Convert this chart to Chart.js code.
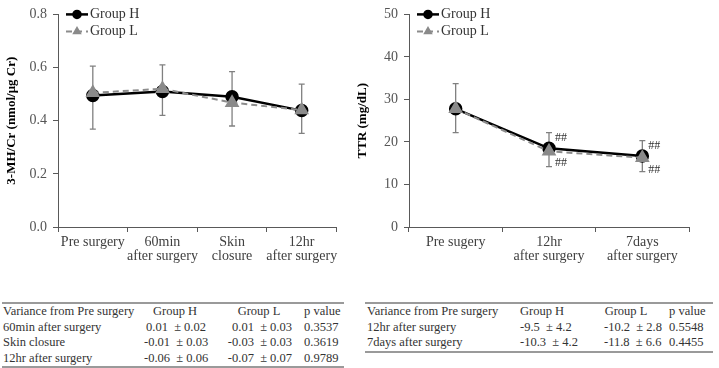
<!DOCTYPE html>
<html>
<head>
<meta charset="utf-8">
<script src="https://cdn.jsdelivr.net/npm/chart.js@4"></script>
<style>
  body { margin: 0; background: #fff; width: 719px; height: 368px; position: relative; overflow: hidden; }
  canvas { position: absolute; top: 0; }
  #chartMH { left: 0; }
  #chartTTR { left: 345px; }
  table { position: absolute; top: 302px; border-collapse: collapse; table-layout: fixed;
          font-family: "Liberation Serif", serif; font-size: 12.5px; color: #333;
          border-top: 2px solid #9a9a9a; border-bottom: 2px solid #9a9a9a; }
  td { height: 15.5px; padding: 0; line-height: 15.5px; white-space: nowrap; }
  #tableMH { left: 2px; width: 342px; }
  #tableTTR { left: 365px; width: 348px; }
  td.num { text-align: right; }
  tr.head td.c { text-align: center; }
</style>
</head>
<body>
<canvas id="chartMH" width="345" height="275"></canvas>
<canvas id="chartTTR" width="374" height="275"></canvas>
<table id="tableMH"></table>
<table id="tableTTR"></table>
<script>
// 3-MH/Cr chart
const etiquetasMH = ["Pre surgery", ["60min", "after surgery"], ["Skin", "closure"], ["12hr", "after surgery"]];
const mhGrupoH = [0.495, 0.51, 0.49, 0.438];
const mhGrupoL = [0.505, 0.52, 0.468, 0.44];
const mhErrorH = [0.11, 0.10, 0.095, 0.10];
const mhErrorL = [0.137, 0.10, 0.088, 0.088];
const mhTicks = [0, 0.2, 0.4, 0.6, 0.8];

// TTR chart
const etiquetasTTR = ["Pre sugery", ["12hr", "after surgery"], ["7days", "after surgery"]];
const ttrGrupoH = [27.8, 18.5, 16.7];
const ttrGrupoL = [27.8, 17.8, 16.3];
const ttrErrorH = [5.9, 3.7, 3.6];
const ttrErrorL = [5.6, 3.6, 3.3];
const ttrSigH = ["", "##", "##"];
const ttrSigL = ["", "##", "##"];
const ttrTicks = [0, 10, 20, 30, 40, 50];

// tablas
const encabezado = ["Variance from Pre surgery", "Group H", "Group L", "p value"];
const filasMH = [
  ["60min after surgery", "0.01  \u00b1 0.02", "0.01  \u00b1 0.03", "0.3537"],
  ["Skin closure", "-0.01  \u00b1 0.03", "-0.03  \u00b1 0.03", "0.3619"],
  ["12hr after surgery", "-0.06  \u00b1 0.06", "-0.07  \u00b1 0.07", "0.9789"],
];
const filasTTR = [
  ["12hr after surgery", "-9.5  \u00b1 4.2", "-10.2  \u00b1 2.8", "0.5548"],
  ["7days after surgery", "-10.3  \u00b1 4.2", "-11.8  \u00b1 6.6", "0.4455"],
];

const FUENTE = "'Liberation Serif', serif";
const GRIS_EJE = "#595959";

// barras de error: grupo H hacia arriba, grupo L hacia abajo
const barrasError = {
  id: "barrasError",
  beforeDatasetsDraw(chart) {
    const ctx = chart.ctx;
    const y = chart.scales.y;
    chart.data.datasets.forEach((ds, i) => {
      const meta = chart.getDatasetMeta(i);
      ctx.save();
      ctx.strokeStyle = "#808080";
      ctx.lineWidth = 1.3;
      meta.data.forEach((pt, j) => {
        const fin = y.getPixelForValue(ds.data[j] + ds.dir * ds.err[j]);
        ctx.beginPath();
        ctx.moveTo(pt.x, pt.y);
        ctx.lineTo(pt.x, fin);
        ctx.moveTo(pt.x - 3, fin);
        ctx.lineTo(pt.x + 3, fin);
        ctx.stroke();
      });
      ctx.restore();
    });
  },
  afterDatasetsDraw(chart) {
    const ctx = chart.ctx;
    chart.data.datasets.forEach((ds, i) => {
      if (!ds.sig) return;
      const meta = chart.getDatasetMeta(i);
      ctx.save();
      ctx.fillStyle = "#333";
      ctx.font = "12px " + FUENTE;
      ctx.textBaseline = "middle";
      meta.data.forEach((pt, j) => {
        if (ds.sig[j]) ctx.fillText(ds.sig[j], pt.x + 6, pt.y + (ds.dir > 0 ? -10 : 12));
      });
      ctx.restore();
    });
  },
};

// leyenda con linea y marcador
const leyenda = {
  id: "leyenda",
  afterDraw(chart) {
    const ctx = chart.ctx;
    const a = chart.chartArea;
    chart.data.datasets.forEach((ds, i) => {
      const yy = a.top + i * 17;
      const x0 = a.left + 8;
      ctx.save();
      ctx.strokeStyle = ds.borderColor;
      ctx.lineWidth = ds.borderWidth;
      ctx.setLineDash(ds.borderDash || []);
      ctx.beginPath();
      ctx.moveTo(x0, yy);
      ctx.lineTo(x0 + 22, yy);
      ctx.stroke();
      ctx.setLineDash([]);
      ctx.fillStyle = ds.pointBackgroundColor;
      ctx.strokeStyle = ds.pointBorderColor;
      Chart.helpers.drawPoint(ctx, { pointStyle: ds.pointStyle, radius: 3.5, rotation: 0, borderWidth: 1 }, x0 + 11, yy);
      ctx.fillStyle = "#333";
      ctx.font = "14px " + FUENTE;
      ctx.textBaseline = "middle";
      ctx.fillText(ds.label, x0 + 24, yy);
      ctx.restore();
    });
  },
};

function datasets(h, l, eh, el, sh, sl) {
  return [
    {
      label: "Group H", data: h, err: eh, dir: 1, sig: sh, order: 2,
      borderColor: "#000", borderWidth: 2.5,
      pointStyle: "circle", pointRadius: 5.5,
      pointBackgroundColor: "#000", pointBorderColor: "#000",
    },
    {
      label: "Group L", data: l, err: el, dir: -1, sig: sl, order: 1,
      borderColor: "#8c8c8c", borderWidth: 2, borderDash: [6, 4],
      pointStyle: "triangle", pointRadius: 6.5,
      pointBackgroundColor: "#8a8a8a", pointBorderColor: "#8a8a8a",
    },
  ];
}

function graficar(id, etiquetas, ds, ticks, titulo, padIzq, padDer, decimales) {
  new Chart(document.getElementById(id), {
    type: "line",
    data: { labels: etiquetas, datasets: ds },
    options: {
      responsive: false,
      animation: false,
      devicePixelRatio: 1,
      layout: { padding: { left: padIzq, right: padDer, top: 10, bottom: 0 } },
      plugins: { legend: { display: false }, tooltip: { enabled: false } },
      scales: {
        x: {
          offset: true,
          afterFit: (s) => { s.height = 48; },
          grid: { offset: true, drawOnChartArea: false, tickLength: 5, color: GRIS_EJE },
          border: { color: GRIS_EJE, width: 1 },
          ticks: { color: "#404040", padding: 3, maxRotation: 0, autoSkip: false,
                   font: { family: FUENTE, size: 14, lineHeight: 1.0 } },
        },
        y: {
          min: ticks[0],
          max: ticks[ticks.length - 1],
          afterFit: (s) => { s.width = 58; },
          afterBuildTicks: (s) => { s.ticks = ticks.map((v) => ({ value: v })); },
          grid: { drawOnChartArea: false, tickLength: 5, color: GRIS_EJE },
          border: { color: GRIS_EJE, width: 1 },
          ticks: { color: "#555", padding: 6, font: { family: FUENTE, size: 14 },
                   callback: (v) => v.toFixed(decimales) },
          title: { display: true, text: titulo, color: "#000",
                   font: { family: FUENTE, size: 13, weight: "bold" } },
        },
      },
    },
    plugins: [barrasError, leyenda],
  });
}

graficar("chartMH", etiquetasMH, datasets(mhGrupoH, mhGrupoL, mhErrorH, mhErrorL), mhTicks,
  "3-MH/Cr (nmol/\u03bcg Cr)", 0, 7, 1);
graficar("chartTTR", etiquetasTTR, datasets(ttrGrupoH, ttrGrupoL, ttrErrorH, ttrErrorL, ttrSigH, ttrSigL), ttrTicks,
  "TTR (mg/dL)", 6, 30, 0);

// tablas de varianza
function llenarTabla(id, filas, anchos, pads) {
  const tabla = document.getElementById(id);
  const colgroup = document.createElement("colgroup");
  anchos.forEach((w) => {
    const c = document.createElement("col");
    c.style.width = w + "px";
    colgroup.appendChild(c);
  });
  tabla.appendChild(colgroup);
  [encabezado, ...filas].forEach((fila, r) => {
    const tr = document.createElement("tr");
    if (r === 0) tr.className = "head";
    fila.forEach((txt, c) => {
      const td = document.createElement("td");
      td.textContent = txt;
      td.style.paddingLeft = pads[c][0] + "px";
      td.style.paddingRight = pads[c][1] + "px";
      td.style.whiteSpace = "pre";
      if (c === 1 || c === 2) td.className = r === 0 ? "c" : "num";
      tr.appendChild(td);
    });
    tabla.appendChild(tr);
  });
}

llenarTabla("tableMH", filasMH, [142, 70, 86, 44], [[1, 0], [0, 8], [12, 8], [4, 0]]);
llenarTabla("tableTTR", filasTTR, [140, 67, 84, 57], [[2, 0], [15, 8], [32, 8], [13, 0]]);
</script>
</body>
</html>
